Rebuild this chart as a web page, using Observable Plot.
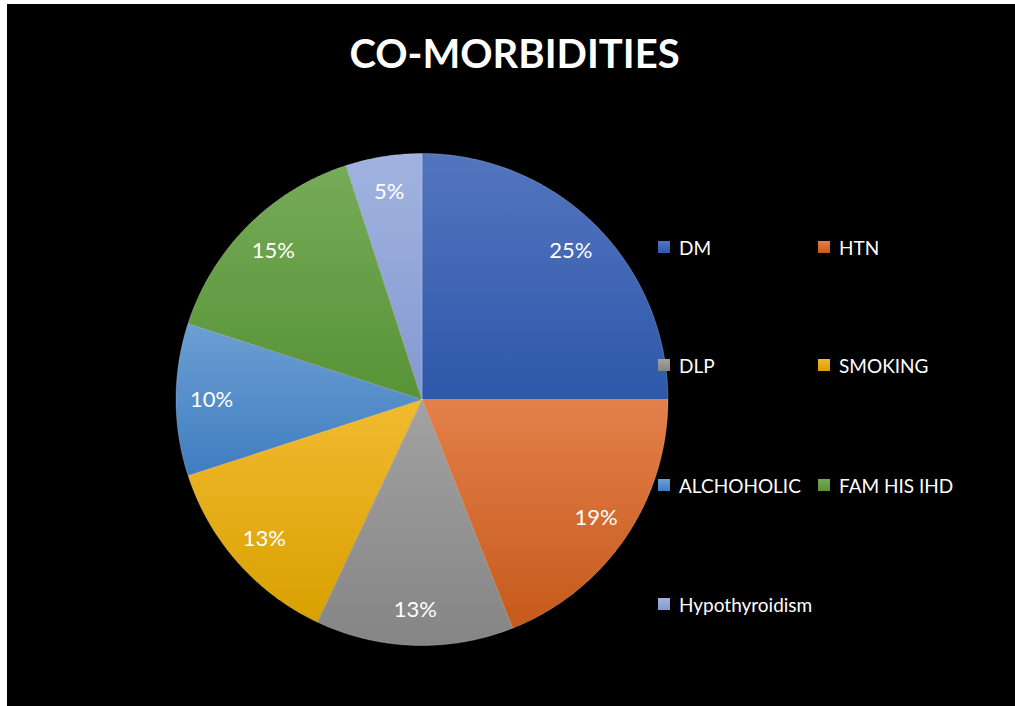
<!DOCTYPE html>
<html>
<head>
<meta charset="utf-8">
<script src="https://cdn.jsdelivr.net/npm/d3@7"></script>
<script src="https://cdn.jsdelivr.net/npm/@observablehq/plot@0.6"></script>
<style>
  html, body { margin: 0; padding: 0; background: #ffffff; }
  #frame { position: absolute; left: 7px; top: 4px; width: 1008px; height: 702px; background: #000; overflow: hidden; font-family: Lato, "Open Sans", sans-serif; }
  #title { position: absolute; left: 0; width: 1015px; top: 25px; text-align: center; color: #fff; font-weight: 700; font-size: 40px; }
  #chart { position: absolute; left: 0; top: 0; }
  .leg { position: absolute; display: flex; align-items: center; color: #fff; font-size: 19px; white-space: nowrap; }
  .leg .sw { width: 12px; height: 12px; margin-right: 9px; }
</style>
</head>
<body>
<div id="frame">
  <div id="chart"></div>
  <div id="title">CO-MORBIDITIES</div>
  <div id="legend"></div>
</div>
<script>
// Share of patients with each co-morbidity (percent)
const categories = ["DM", "HTN", "DLP", "SMOKING", "ALCHOHOLIC", "FAM HIS IHD", "Hypothyroidism"];
const percents = [25, 19, 13, 13, 10, 15, 5];

// Slice shading: lighter at the top of each slice, darker at the bottom
const topColors = ["#5475be", "#e3804a", "#a2a2a2", "#f2ba30", "#6c9fd3", "#76ab57", "#a0b3df"];
const bottomColors = ["#2d58ab", "#c6591b", "#858585", "#d9a000", "#3f7dc0", "#579337", "#8599d1"];

const total = d3.sum(percents);
let acc = 0;
const slices = categories.map((name, i) => {
  const a0 = (acc / total) * 2 * Math.PI;
  acc += percents[i];
  const a1 = (acc / total) * 2 * Math.PI;
  return {name, value: percents[i], a0, a1, mid: (a0 + a1) / 2};
});

// Outline of each wedge in unit coordinates (clockwise from 12 o'clock)
const outline = [];
for (const s of slices) {
  outline.push({name: s.name, x: 0, y: 0});
  const steps = Math.max(2, Math.ceil((s.a1 - s.a0) / (Math.PI / 360)));
  for (let k = 0; k <= steps; k++) {
    const a = s.a0 + (s.a1 - s.a0) * k / steps;
    outline.push({name: s.name, x: Math.sin(a), y: Math.cos(a)});
  }
  outline.push({name: s.name, x: 0, y: 0});
}

const labelRadius = 0.855;
const labels = slices.map(s => ({
  text: s.value + "%",
  x: labelRadius * Math.sin(s.mid),
  y: labelRadius * Math.cos(s.mid)
}));

const cx = 414.5, cy = 395, r = 246;
const gradIds = categories.map((_, i) => `shade${i}`);

const plot = Plot.plot({
  width: 1008,
  height: 702,
  margin: 0,
  style: {background: "transparent", overflow: "visible"},
  x: {domain: [-1, 1], range: [cx - r, cx + r], axis: null},
  y: {domain: [-1, 1], range: [cy + r, cy - r], axis: null},
  color: {domain: categories, range: gradIds.map(id => `url(#${id})`), type: "ordinal"},
  marks: [
    Plot.line(outline, {
      x: "x", y: "y", z: "name", fill: "name",
      stroke: "#ffffff", strokeOpacity: 0.3, strokeWidth: 0.75, curve: "linear"
    }),
    Plot.text(labels, {
      x: "x", y: "y", text: "text", fill: "#ffffff",
      fontSize: 22, fontFamily: "Lato, 'Open Sans', sans-serif"
    })
  ]
});

// Vertical gradients referenced by the slice fills
const defs = d3.select(plot).insert("defs", ":first-child");
gradIds.forEach((id, i) => {
  const g = defs.append("linearGradient").attr("id", id)
    .attr("x1", 0).attr("y1", 0).attr("x2", 0).attr("y2", 1);
  g.append("stop").attr("offset", "0%").attr("stop-color", topColors[i]);
  g.append("stop").attr("offset", "100%").attr("stop-color", bottomColors[i]);
});
document.getElementById("chart").appendChild(plot);

// Two-column legend
const legend = document.getElementById("legend");
const colX = [651, 811];
const rowY = [243, 361, 481, 600];
categories.forEach((name, i) => {
  const el = document.createElement("div");
  el.className = "leg";
  el.style.left = colX[i % 2] + "px";
  el.style.top = (rowY[Math.floor(i / 2)] - 12) + "px";
  el.style.height = "24px";
  const sw = document.createElement("div");
  sw.className = "sw";
  sw.style.background = `linear-gradient(${topColors[i]}, ${bottomColors[i]})`;
  el.appendChild(sw);
  el.appendChild(document.createTextNode(name));
  legend.appendChild(el);
});
</script>
</body>
</html>
